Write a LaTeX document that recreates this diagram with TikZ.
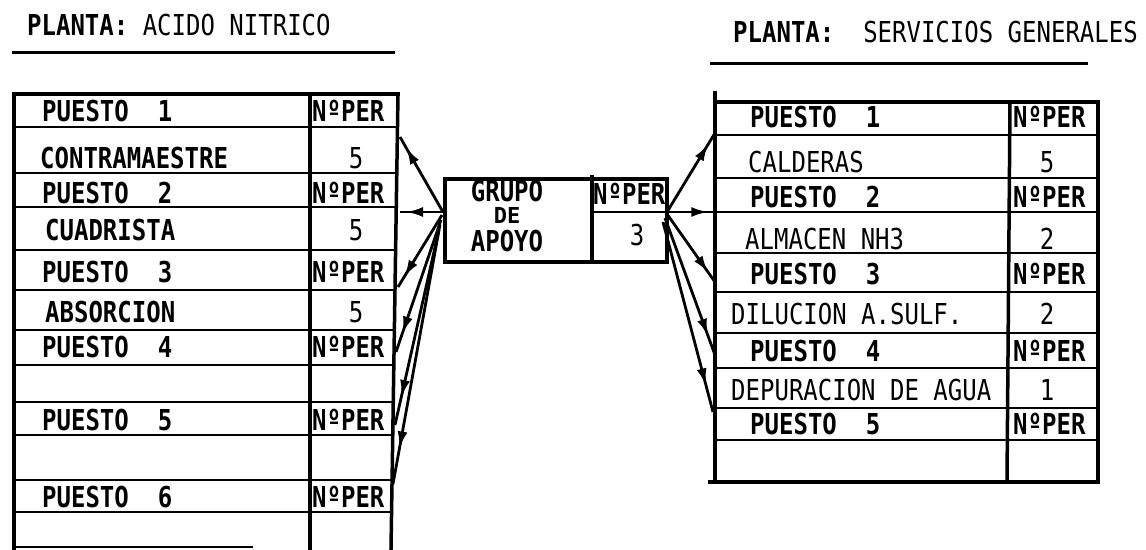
\documentclass[tikz,border=0pt]{standalone}
\usepackage{fontspec}
\usepackage{graphicx}
\usetikzlibrary{arrows.meta,decorations.markings}
\newfontfamily\dvm{DejaVu Sans Mono}
\newcommand{\tx}[1]{\scalebox{1}[1.2]{#1}}
\begin{document}
\begin{tikzpicture}[x=1pt,y=-1pt,
  lbl/.style={inner sep=0pt, anchor=west, font=\dvm\fontsize{24}{24}\selectfont},
  blbl/.style={lbl, font=\dvm\bfseries\fontsize{24}{24}\selectfont},
  cnum/.style={lbl, anchor=center},
  frame/.style={line width=3.5pt, line cap=rect},
  rowline/.style={line width=2.5pt},
  conn/.style={line width=2.8pt, postaction={decorate},
    decoration={markings, mark=at position 0.86 with {\arrow{Latex[length=17pt,width=10pt]}}}}]
\useasboundingbox (0,0) rectangle (1146,549);

% titles
\node[lbl] (t1) at (27,25) {\tx{{\bfseries PLANTA:}~ACIDO~NITRICO}};
\draw[line width=3pt] (12,52) -- (395,52);
\node[lbl] (t2) at (733,32) {\tx{{\bfseries PLANTA:}~~SERVICIOS~GENERALES}};
\draw[line width=3pt] (710,63) -- (1088,63);

% left table
\draw[frame] (14,94) -- (398,94);
\draw[frame] (14,94) -- (14,549);
\draw[frame] (398,94) -- (391,549);
\draw[frame] (310,94) -- (310,549);
\foreach \y [evaluate=\y as \xr using 398-7*(\y-94)/455] in {127,173,207,250,290,330,365,402,435,480,512}
  \draw[rowline] (14,\y) -- (\xr,\y);
\draw[rowline] (14,547) -- (253,547);

\node[blbl] (lp1) at (42,111) {\tx{PUESTO~~1}};
\node[blbl] (lp1n) at (312,111) {\tx{NºPER}};
\node[blbl] (ld1) at (40,158) {\tx{CONTRAMAESTRE}};
\node[cnum] (ld1n) at (356,158) {\tx{5}};
\node[blbl] (lp2) at (42,193) {\tx{PUESTO~~2}};
\node[blbl] (lp2n) at (312,193) {\tx{NºPER}};
\node[blbl] (ld2) at (45,230) {\tx{CUADRISTA}};
\node[cnum] (ld2n) at (356,230) {\tx{5}};
\node[blbl] (lp3) at (42,272) {\tx{PUESTO~~3}};
\node[blbl] (lp3n) at (312,272) {\tx{NºPER}};
\node[blbl] (ld3) at (45,312) {\tx{ABSORCION}};
\node[cnum] (ld3n) at (356,312) {\tx{5}};
\node[blbl] (lp4) at (42,347) {\tx{PUESTO~~4}};
\node[blbl] (lp4n) at (312,347) {\tx{NºPER}};
\node[blbl] (lp5) at (42,420) {\tx{PUESTO~~5}};
\node[blbl] (lp5n) at (312,420) {\tx{NºPER}};
\node[blbl] (lp6) at (42,497) {\tx{PUESTO~~6}};
\node[blbl] (lp6n) at (312,497) {\tx{NºPER}};

% right table
\draw[frame] (715,93) -- (715,482);
\draw[frame] (715,102) -- (1098,102);
\draw[frame] (1098,102) -- (1098,482);
\draw[frame] (1010,102) -- (1007,482);
\draw[frame] (710,482) -- (1098,482);
\foreach \y in {135,178,212,253,292,333,368,408,440}
  \draw[rowline] (715,\y) -- (1098,\y);

\node[blbl] (rp1) at (750,117) {\tx{PUESTO~~1}};
\node[blbl] (rp1n) at (1013,117) {\tx{NºPER}};
\node[lbl] (rd1) at (748,162) {\tx{CALDERAS}};
\node[cnum] (rd1n) at (1047,162) {\tx{5}};
\node[blbl] (rp2) at (750,197) {\tx{PUESTO~~2}};
\node[blbl] (rp2n) at (1013,197) {\tx{NºPER}};
\node[lbl] (rd2) at (745,239) {\tx{ALMACEN~NH3}};
\node[cnum] (rd2n) at (1047,239) {\tx{2}};
\node[blbl] (rp3) at (750,274) {\tx{PUESTO~~3}};
\node[blbl] (rp3n) at (1013,274) {\tx{NºPER}};
\node[lbl] (rd3) at (731,314) {\tx{DILUCION~A.SULF.}};
\node[cnum] (rd3n) at (1047,314) {\tx{2}};
\node[blbl] (rp4) at (750,351) {\tx{PUESTO~~4}};
\node[blbl] (rp4n) at (1013,351) {\tx{NºPER}};
\node[lbl] (rd4) at (731,390) {\tx{DEPURACION~DE~AGUA}};
\node[cnum] (rd4n) at (1047,390) {\tx{1}};
\node[blbl] (rp5) at (750,424) {\tx{PUESTO~~5}};
\node[blbl] (rp5n) at (1013,424) {\tx{NºPER}};

% centre box
\node[draw, line width=4pt, minimum width=222pt, minimum height=83pt, inner sep=0pt, anchor=north west] (grupo) at (443,177) {};
\draw[frame] (592,177) -- (592,260);
\draw[rowline] (592,212) -- (665,212);
\node[blbl, anchor=center] (g1) at (507,191) {\tx{GRUPO}};
\node[blbl, anchor=center, font=\dvm\bfseries\fontsize{22}{22}\selectfont] (g2) at (507,215) {DE};
\node[blbl, anchor=center] (g3) at (507,241) {\tx{APOYO}};
\node[blbl] (gn) at (593,194) {\tx{NºPER}};
\node[cnum] (gv) at (637,235) {\tx{3}};

% connector end points
\coordinate (gl1) at (443,212);
\coordinate (gl3) at (442,215);
\coordinate (gl4) at (441,220);
\coordinate (gl5) at (440,225);
\coordinate (gl6) at (439,230);
\coordinate (gr1) at (667,212);
\coordinate (gr3) at (667,214);
\coordinate (gr4) at (665,218);
\coordinate (gr5) at (663,222);
\coordinate (la1) at (400,137);
\coordinate (la2) at (400,212);
\coordinate (la3) at (398,287);
\coordinate (la4) at (396,352);
\coordinate (la5) at (395,425);
\coordinate (la6) at (393,484);
\coordinate (ra1) at (715,133);
\coordinate (ra2) at (715,212);
\coordinate (ra3) at (715,282);
\coordinate (ra4) at (715,355);
\coordinate (ra5) at (713,412);

\draw[conn] (gl1) -- (la1);
\draw[conn] (gl1) -- (la2);
\draw[conn] (gl3) -- (la3);
\draw[conn] (gl4) -- (la4);
\draw[conn] (gl5) -- (la5);
\draw[conn] (gl6) -- (la6);
\draw[conn] (gr1) -- (ra1);
\draw[conn] (gr1) -- (ra2);
\draw[conn] (gr3) -- (ra3);
\draw[conn] (gr4) -- (ra4);
\draw[conn] (gr5) -- (ra5);
\end{tikzpicture}
\end{document}
